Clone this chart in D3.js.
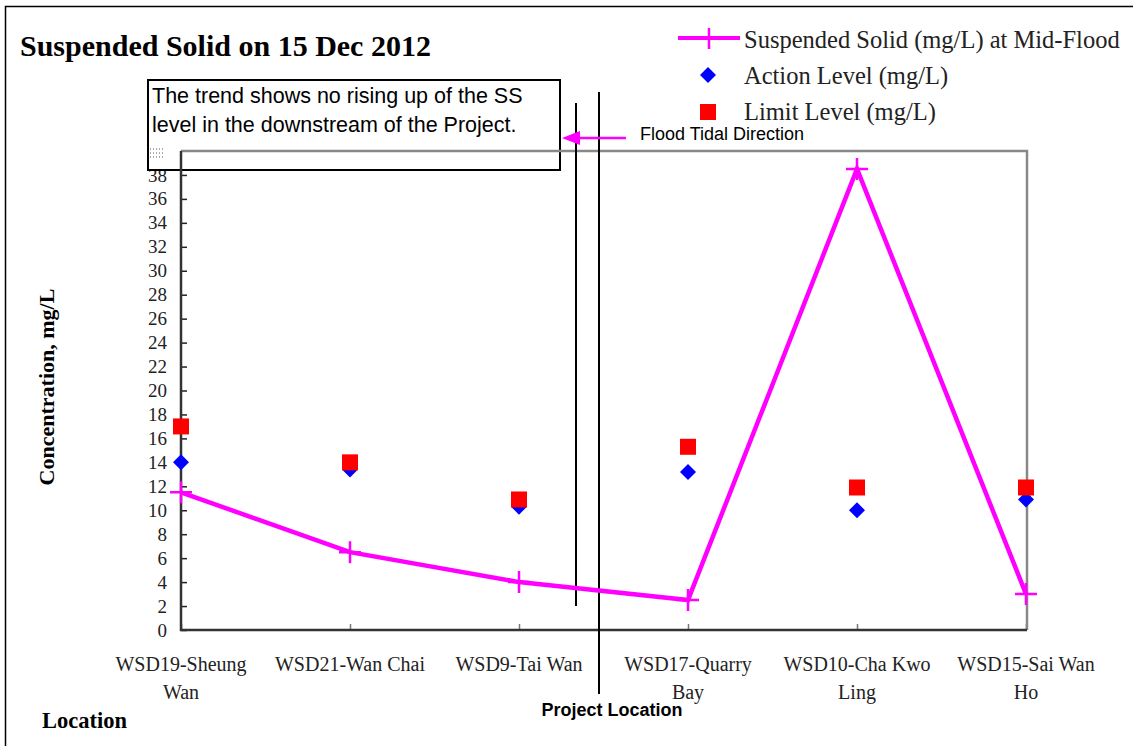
<!DOCTYPE html>
<html><head><meta charset="utf-8">
<script src="https://cdn.jsdelivr.net/npm/d3@7"></script>
<style>body{margin:0;background:#fff}svg{display:block}</style>
</head><body>
<svg id="c" width="1133" height="746"></svg>
<script>
const categories = ["WSD19-Sheung Wan","WSD21-Wan Chai","WSD9-Tai Wan","WSD17-Quarry Bay","WSD10-Cha Kwo Ling","WSD15-Sai Wan Ho"];
const categoryLines = [["WSD19-Sheung","Wan"],["WSD21-Wan Chai"],["WSD9-Tai Wan"],["WSD17-Quarry","Bay"],["WSD10-Cha Kwo","Ling"],["WSD15-Sai Wan","Ho"]];
const ssValues = [11.5, 6.5, 4.0, 2.5, 38.5, 3.0];
const actionValues = [14.0, 13.4, 10.3, 13.2, 10.0, 10.9];
const limitValues = [17.0, 14.0, 10.9, 15.3, 11.9, 11.9];
const yTicks = d3.range(0, 41, 2);
const legendLabels = ["Suspended Solid (mg/L) at Mid-Flood","Action Level (mg/L)","Limit Level (mg/L)"];

const svg = d3.select("#c");
const serif = "'Liberation Serif','Times New Roman',serif";
const sans = "'Liberation Sans',Arial,sans-serif";
const L = 181, R = 1026, T = 151, B = 630;
const x = d3.scalePoint().domain(categories).range([L, R]);
const y = d3.scaleLinear().domain([0, 40]).range([B, T]);

// outer frame
svg.append("path").attr("d","M5.5,746 V6.5 H1133").attr("fill","none").attr("stroke","#000").attr("stroke-width",1.5);

// title
svg.append("text").attr("x",20).attr("y",56).attr("font-family",serif).attr("font-weight","bold")
  .attr("font-size",30).text("Suspended Solid on 15 Dec 2012");

// y axis
const ya = svg.append("g").attr("transform",`translate(${L},0)`)
  .call(d3.axisLeft(y).tickValues(yTicks).tickSize(-6).tickPadding(14));
ya.select(".domain").remove();
ya.selectAll(".tick line").attr("stroke","#222").attr("stroke-width",1.5);
ya.selectAll(".tick text").attr("font-family",serif).attr("font-size",19).attr("fill","#222");

// x ticks
const xa = svg.append("g").attr("transform",`translate(0,${B})`)
  .call(d3.axisBottom(x).tickSize(-6).tickFormat(""));
xa.select(".domain").remove();
xa.selectAll(".tick line").attr("stroke","#777").attr("stroke-width",1.5);

// x labels
const xl = svg.append("g");
categories.forEach((c,i)=>{
  const t = xl.append("text").attr("x",x(c)).attr("y",671).attr("text-anchor","middle")
    .attr("font-family",serif).attr("font-size",20).attr("fill","#222");
  categoryLines[i].forEach((ln,j)=>t.append("tspan").attr("x",x(c)).attr("dy",j?28:0).text(ln));
});

// annotation box
svg.append("rect").attr("x",148).attr("y",80).attr("width",412).attr("height",90)
  .attr("fill","#fff").attr("stroke","#000").attr("stroke-width",2);
svg.append("text").attr("x",152).attr("y",103).attr("font-family",sans).attr("font-size",21.5)
  .text("The trend shows no rising up of the SS");
svg.append("text").attr("x",152).attr("y",132).attr("font-family",sans).attr("font-size",21.5)
  .text("level in the downstream of the Project.");
// faint dotted remnants
svg.append("path").attr("d","M150,149 H164 M150,153 H164 M150,157 H164 M181,152 V166")
  .attr("stroke","#555").attr("stroke-width",1).attr("stroke-dasharray","1,2");

// plot frame
svg.append("path").attr("d",`M${L},${T} H${R+1} V${B}`).attr("fill","none").attr("stroke","#888").attr("stroke-width",2.5);
svg.append("path").attr("d",`M${L},${T} V${B} H${R+1}`).attr("fill","none").attr("stroke","#333").attr("stroke-width",2.5);

// vertical reference lines
svg.append("line").attr("x1",576).attr("x2",576).attr("y1",103).attr("y2",606).attr("stroke","#000").attr("stroke-width",2);
svg.append("line").attr("x1",599).attr("x2",599).attr("y1",92).attr("y2",694).attr("stroke","#000").attr("stroke-width",2);
svg.append("text").attr("x",612).attr("y",716).attr("text-anchor","middle").attr("font-family",sans)
  .attr("font-weight","bold").attr("font-size",18).text("Project Location");

// flood tidal direction arrow
svg.append("line").attr("x1",626).attr("x2",575).attr("y1",138).attr("y2",138).attr("stroke","#f0f").attr("stroke-width",2.5);
svg.append("path").attr("d","M562,138 L580,131 L580,145 Z").attr("fill","#f0f");
svg.append("text").attr("x",640).attr("y",140).attr("font-family",sans).attr("font-size",18).text("Flood Tidal Direction");

// series
const line = d3.line().x((d,i)=>x(categories[i])).y(d=>y(d));
svg.append("path").datum(ssValues).attr("d",line).attr("fill","none").attr("stroke","#f0f").attr("stroke-width",4.5).attr("stroke-linejoin","miter");
const cross = (g, cx, cy, s) => g.append("path").attr("d",`M${cx-s},${cy} H${cx+s} M${cx},${cy-s} V${cy+s}`)
  .attr("stroke","#f0f").attr("stroke-width",2.5);
ssValues.forEach((v,i)=>cross(svg, x(categories[i]), y(v), 11));

actionValues.forEach((v,i)=>{
  const cx = x(categories[i]), cy = y(v);
  svg.append("path").attr("d",`M${cx},${cy-8} L${cx+8},${cy} L${cx},${cy+8} L${cx-8},${cy} Z`).attr("fill","#00f");
});
limitValues.forEach((v,i)=>{
  const cx = x(categories[i]), cy = y(v);
  svg.append("rect").attr("x",cx-8).attr("y",cy-8).attr("width",16).attr("height",16).attr("fill","#f00");
});

// axis titles
svg.append("text").attr("transform","translate(54,387) rotate(-90)").attr("text-anchor","middle")
  .attr("font-family",serif).attr("font-weight","bold").attr("font-size",22).text("Concentration, mg/L");
svg.append("text").attr("x",42).attr("y",728).attr("font-family",serif).attr("font-weight","bold")
  .attr("font-size",22.5).text("Location");

// legend
const lg = svg.append("g");
lg.append("line").attr("x1",678).attr("x2",740).attr("y1",38).attr("y2",38).attr("stroke","#f0f").attr("stroke-width",4);
lg.append("line").attr("x1",709).attr("x2",709).attr("y1",28).attr("y2",49).attr("stroke","#f0f").attr("stroke-width",2.5);
lg.append("path").attr("d","M708,67 L716,75 L708,83 L700,75 Z").attr("fill","#00f");
lg.append("rect").attr("x",700).attr("y",104).attr("width",16).attr("height",16).attr("fill","#f00");
legendLabels.forEach((t,i)=>lg.append("text").attr("x",744).attr("y",[48,84,120][i])
  .attr("font-family",serif).attr("font-size",24.5).attr("fill","#222").text(t));
</script>
</body></html>
